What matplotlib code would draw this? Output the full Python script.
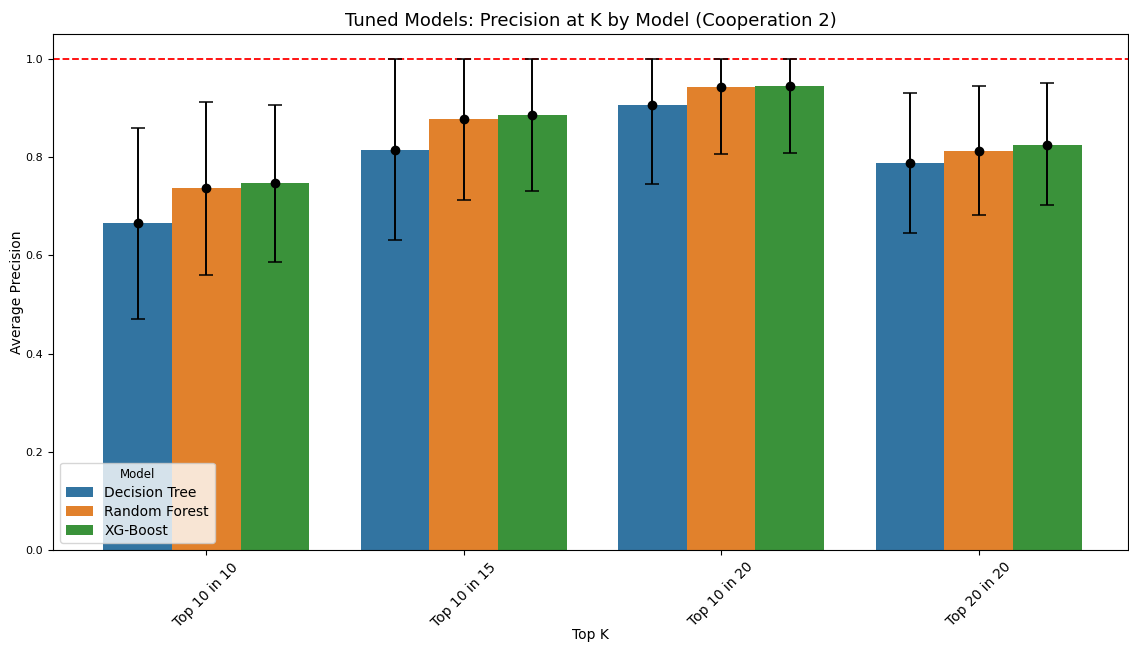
import matplotlib
matplotlib.use("Agg")
import matplotlib.pyplot as plt
import seaborn as sns
import pandas as pd
import numpy as np

top_k = ["Top 10 in 10", "Top 10 in 15", "Top 10 in 20", "Top 20 in 20"]
models = ["Decision Tree", "Random Forest", "XG-Boost"]

# mean precision per model, one value per top-k group
mean_dt = [0.665, 0.815, 0.906, 0.788]
mean_rf = [0.737, 0.877, 0.942, 0.813]
mean_xgb = [0.747, 0.885, 0.944, 0.825]

# error bar ends (upper ends clipped at 1.0)
low_dt = [0.471, 0.631, 0.746, 0.645]
high_dt = [0.859, 1.0, 1.0, 0.931]
low_rf = [0.560, 0.713, 0.807, 0.682]
high_rf = [0.913, 1.0, 1.0, 0.944]
low_xgb = [0.587, 0.731, 0.808, 0.702]
high_xgb = [0.906, 1.0, 1.0, 0.950]

means = [mean_dt, mean_rf, mean_xgb]
lows = [low_dt, low_rf, low_xgb]
highs = [high_dt, high_rf, high_xgb]

rows = []
for m, vals in zip(models, means):
    for k, v in zip(top_k, vals):
        rows.append({"Top K": k, "Model": m, "Average Precision": v})
df = pd.DataFrame(rows)

fig = plt.figure(figsize=(11.29, 6.45), dpi=100)
ax = fig.add_subplot(111)
fig.subplots_adjust(left=0.047, right=0.999, top=0.947, bottom=0.147)

sns.barplot(data=df, x="Top K", y="Average Precision", hue="Model",
            order=top_k, hue_order=models, errorbar=None, ax=ax)

# error bars on the bar centres
width = 0.8 / len(models)
x = np.arange(len(top_k))
for i in range(len(models)):
    xs = x - 0.4 + width * (i + 0.5)
    m = np.array(means[i])
    yerr = [m - np.array(lows[i]), np.array(highs[i]) - m]
    ax.errorbar(xs, m, yerr=yerr, fmt="o", color="black", capsize=5,
                markersize=6, elinewidth=1.4, capthick=1.1, zorder=5)

ax.axhline(1.0, color="red", linestyle="--", linewidth=1.3)

ax.set_xlim(-0.595, 3.58)
ax.set_ylim(0, 1.05)
ax.set_title("Tuned Models: Precision at K by Model (Cooperation 2)", fontsize=13)
ax.set_xlabel("Top K", fontsize=10, labelpad=-1)
ax.set_ylabel("Average Precision", fontsize=10, labelpad=1)
plt.setp(ax.get_xticklabels(), rotation=45, fontsize=10)
ax.tick_params(axis="y", labelsize=8)

ax.legend(title="Model", loc="lower left", fontsize=10, title_fontsize=8.5,
          labelspacing=0.35)

fig.savefig("out.png", dpi=100)
plt.close()
